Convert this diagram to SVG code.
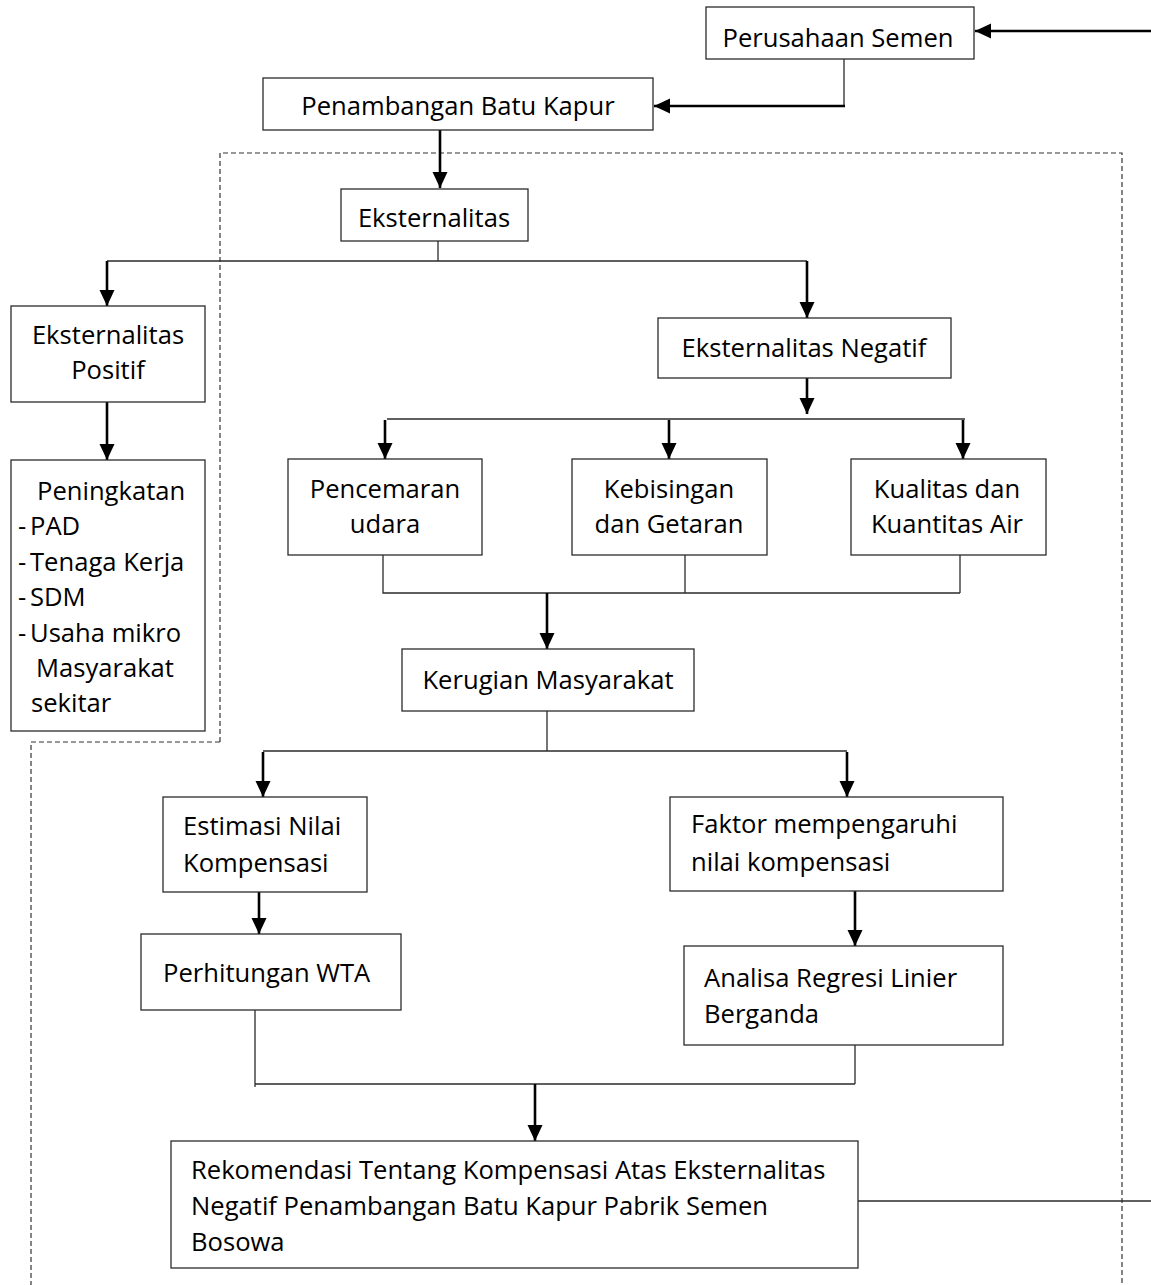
<svg xmlns="http://www.w3.org/2000/svg" width="1151" height="1285" viewBox="0 0 1151 1285">
<style>
  .box { fill: #ffffff; stroke: #2b2b2b; stroke-width: 1.3; }
  .t { font-family: "Open Sans", "Noto Sans", sans-serif; font-size: 25.6px; fill: #000000; }
  .c { text-anchor: middle; }
  .thin { fill: none; stroke: #2b2b2b; stroke-width: 1.3; }
  .arr { fill: none; stroke: #000000; stroke-width: 2.6; marker-end: url(#ah); }
  .dash { fill: none; stroke: #333333; stroke-width: 1.2; stroke-dasharray: 5 3; }
</style>
<defs>
  <marker id="ah" markerUnits="userSpaceOnUse" markerWidth="17" markerHeight="16" refX="16" refY="7.5" orient="auto">
    <path d="M0,0 L16,7.5 L0,15 z" fill="#000000"/>
  </marker>
</defs>
<rect width="1151" height="1285" fill="#ffffff"/>

<g id="boundary">
  <path class="dash" d="M220,742 L220,153 L1122,153 L1122,1285"/>
  <path class="dash" d="M220,742 L31,742 L31,1285"/>
</g>

<g id="connectors">
  <path class="arr" d="M1151,31 L975,31"/>
  <path class="thin" d="M844,59 L844,106"/>
  <path class="arr" d="M845,106 L654,106"/>
  <path class="arr" d="M440,130 L440,188"/>
  <path class="thin" d="M438,241 L438,261 M107,261 L807,261"/>
  <path class="arr" d="M107,261 L107,306"/>
  <path class="arr" d="M807,261 L807,318"/>
  <path class="arr" d="M107,402 L107,460"/>
  <path class="arr" d="M807,378 L807,414"/>
  <path class="thin" d="M387,419 L965,419"/>
  <path class="arr" d="M385,420 L385,459"/>
  <path class="arr" d="M669,420 L669,459"/>
  <path class="arr" d="M963,420 L963,459"/>
  <path class="thin" d="M383,555 L383,593 L960,593 M685,555 L685,593 M960,555 L960,593"/>
  <path class="arr" d="M547,593 L547,649"/>
  <path class="thin" d="M547,711 L547,751 M263,751 L847,751"/>
  <path class="arr" d="M263,752 L263,797"/>
  <path class="arr" d="M847,752 L847,797"/>
  <path class="arr" d="M259,892 L259,934"/>
  <path class="arr" d="M855,891 L855,946"/>
  <path class="thin" d="M255,1010 L255,1087 M255,1084 L855,1084 M855,1045 L855,1084"/>
  <path class="arr" d="M535,1084 L535,1141"/>
  <path class="thin" d="M858,1201 L1151,1201"/>
</g>

<g id="n-perusahaan">
  <rect class="box" x="706" y="7" width="268" height="52"/>
  <text class="t c" x="838" y="47">Perusahaan Semen</text>
</g>
<g id="n-penambangan">
  <rect class="box" x="263" y="78" width="390" height="52"/>
  <text class="t c" x="458" y="115">Penambangan Batu Kapur</text>
</g>
<g id="n-eksternalitas">
  <rect class="box" x="341" y="189" width="187" height="52"/>
  <text class="t c" x="434" y="227">Eksternalitas</text>
</g>
<g id="n-positif">
  <rect class="box" x="11" y="306" width="194" height="96"/>
  <text class="t c" x="108" y="344">Eksternalitas</text>
  <text class="t c" x="108" y="379">Positif</text>
</g>
<g id="n-peningkatan">
  <rect class="box" x="11" y="460" width="194" height="271"/>
  <text class="t" x="37" y="500">Peningkatan</text>
  <text class="t" x="18" y="535">-</text><text class="t" x="30" y="535">PAD</text>
  <text class="t" x="18" y="571">-</text><text class="t" x="30" y="571">Tenaga Kerja</text>
  <text class="t" x="18" y="606">-</text><text class="t" x="30" y="606">SDM</text>
  <text class="t" x="18" y="642">-</text><text class="t" x="30" y="642">Usaha mikro</text>
  <text class="t" x="36" y="677">Masyarakat</text>
  <text class="t" x="31" y="712">sekitar</text>
</g>
<g id="n-negatif">
  <rect class="box" x="658" y="318" width="293" height="60"/>
  <text class="t c" x="804" y="357">Eksternalitas Negatif</text>
</g>
<g id="n-pencemaran">
  <rect class="box" x="288" y="459" width="194" height="96"/>
  <text class="t c" x="385" y="498">Pencemaran</text>
  <text class="t c" x="385" y="533">udara</text>
</g>
<g id="n-kebisingan">
  <rect class="box" x="572" y="459" width="195" height="96"/>
  <text class="t c" x="669" y="498">Kebisingan</text>
  <text class="t c" x="669" y="533">dan Getaran</text>
</g>
<g id="n-kualitas">
  <rect class="box" x="851" y="459" width="195" height="96"/>
  <text class="t c" x="947" y="498">Kualitas dan</text>
  <text class="t c" x="947" y="533">Kuantitas Air</text>
</g>
<g id="n-kerugian">
  <rect class="box" x="402" y="649" width="292" height="62"/>
  <text class="t c" x="548" y="689">Kerugian Masyarakat</text>
</g>
<g id="n-estimasi">
  <rect class="box" x="163" y="797" width="204" height="95"/>
  <text class="t" x="183" y="835">Estimasi Nilai</text>
  <text class="t" x="183" y="872">Kompensasi</text>
</g>
<g id="n-faktor">
  <rect class="box" x="670" y="797" width="333" height="94"/>
  <text class="t" x="691" y="833">Faktor mempengaruhi</text>
  <text class="t" x="691" y="871">nilai kompensasi</text>
</g>
<g id="n-wta">
  <rect class="box" x="141" y="934" width="260" height="76"/>
  <text class="t" x="163" y="982">Perhitungan WTA</text>
</g>
<g id="n-analisa">
  <rect class="box" x="684" y="946" width="319" height="99"/>
  <text class="t" x="704" y="987">Analisa Regresi Linier</text>
  <text class="t" x="704" y="1023">Berganda</text>
</g>
<g id="n-rekomendasi">
  <rect class="box" x="171" y="1141" width="687" height="127"/>
  <text class="t" x="191" y="1179">Rekomendasi Tentang Kompensasi Atas Eksternalitas</text>
  <text class="t" x="191" y="1215">Negatif Penambangan Batu Kapur Pabrik Semen</text>
  <text class="t" x="191" y="1251">Bosowa</text>
</g>
</svg>
